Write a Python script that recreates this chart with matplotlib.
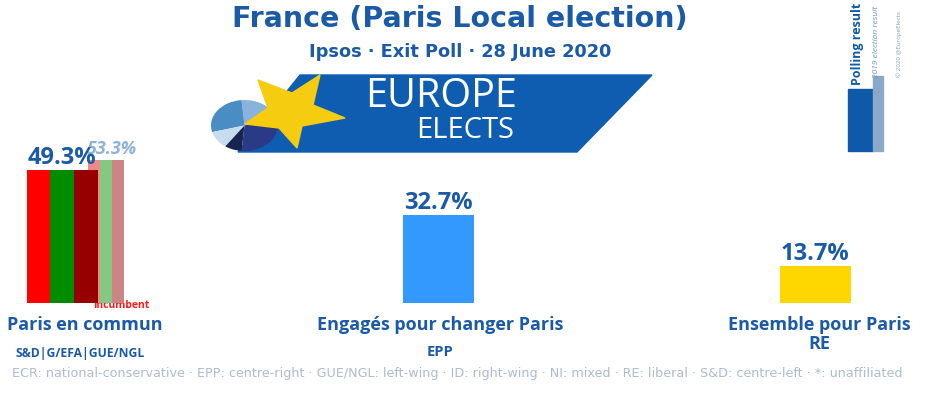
import matplotlib
matplotlib.use("Agg")
import matplotlib.pyplot as plt
from matplotlib.patches import Polygon, Rectangle
import numpy as np

plt.rcParams["font.family"] = ["DejaVu Sans"]

# --- data ---
parties = ["Paris en commun", "Engagés pour changer Paris", "Ensemble pour Paris"]
groups = ["S&D|G/EFA|GUE/NGL", "EPP", "RE"]
values = [49.3, 32.7, 13.7]
previous = [53.3, None, None]
# the first list is a joint list, shown as stripes
stripe_colors = [["#ff0000", "#008c00", "#960000"], ["#3399ff"], ["#ffd700"]]
prev_colors = ["#f08a8a", "#84c884", "#cc8484"]

TITLE = "France (Paris Local election)"
SUBTITLE = "Ipsos · Exit Poll · 28 June 2020"
FOOTNOTE = ("ECR: national-conservative · EPP: centre-right · GUE/NGL: left-wing · "
            "ID: right-wing · NI: mixed · RE: liberal · S&D: centre-left · *: unaffiliated")

NAVY = "#1a5aa6"
OPEN = ["Open Sans", "DejaVu Sans"]

W, H = 932, 396
fig = plt.figure(figsize=(W / 100, H / 100), dpi=100)

# overlay in pixel coordinates (y down) for texts and logo
ov = fig.add_axes([0, 0, 1, 1])
ov.set_xlim(0, W)
ov.set_ylim(H, 0)
ov.axis("off")

# bar axes: x in category units, y in percent
base_px = 303
px_per_pct = 2.69
spacing = 376.5
x0_px = 62
ax = fig.add_axes([0, (H - base_px) / H, 1, 100 * px_per_pct / H])
ax.set_xlim(-x0_px / spacing, (W - x0_px) / spacing)
ax.set_ylim(0, 100)
ax.axis("off")
ax.patch.set_alpha(0)

bw = 71 / spacing
x = np.arange(len(parties))

# previous result bars (behind)
for i, pv in enumerate(previous):
    if pv is None:
        continue
    pw = 12 / spacing
    start = x[i] + 26 / spacing
    for j, c in enumerate(prev_colors):
        ax.bar(start + (j + 0.5) * pw, pv, pw, color=c, zorder=1)
    ax.annotate(f"{pv}%", (start + 1.5 * pw, pv), xytext=(4, 1), textcoords="offset points",
                ha="center", va="bottom", fontsize=13, fontstyle="italic",
                fontweight="bold", color="#8fb2d8", zorder=3, family=OPEN)

for i, v in enumerate(values):
    cols = stripe_colors[i]
    sw = bw / len(cols)
    for j, c in enumerate(cols):
        ax.bar(x[i] - bw / 2 + (j + 0.5) * sw, v, sw, color=c, zorder=2)
    ax.annotate(f"{v}%", (x[i], v), xytext=(0, 0), textcoords="offset points",
                ha="center", va="bottom", fontsize=17, fontweight="bold",
                color=NAVY, zorder=4, family=OPEN)

# party and group labels
label_shift = [23, 1.5, 4]
for i, (p, g) in enumerate(zip(parties, groups)):
    cx = x0_px + spacing * i + label_shift[i]
    ov.text(cx, 325, p, ha="center", va="center", fontsize=13, fontweight="bold",
            color=NAVY, family=OPEN)
    if i == 2:
        ov.text(cx, 344, g, ha="center", va="center", fontsize=13, fontweight="bold",
                color=NAVY, family=OPEN)
    elif i == 0:
        ov.text(80, 354, g, ha="center", va="center", fontsize=8.7, fontweight="bold",
                color=NAVY, family=OPEN)
    else:
        ov.text(cx, 352, g, ha="center", va="center", fontsize=10.5, fontweight="bold",
                color=NAVY, family=OPEN)

ov.text(93, 306, "Incumbent", ha="left", va="center", fontsize=7.5,
        fontweight="bold", color="#ff1a1a", family=OPEN)

# titles
ov.text(460, 19, TITLE, ha="center", va="center", fontsize=20.5, fontweight="bold", color=NAVY)
ov.text(460, 52, SUBTITLE, ha="center", va="center", fontsize=12.8, fontweight="bold", color=NAVY)
ov.text(12, 374, FOOTNOTE, ha="left", va="center", fontsize=9.15, color="#aebbd0")

# Europe Elects logo
ov.add_patch(Polygon([(300, 75), (652, 75), (577, 152), (238, 152)],
                     closed=True, color="#0f5db0", zorder=1))
pie_ax = fig.add_axes([211 / W, (H - 151) / H, 67 / W, 51 / H])
pie_ax.pie([75, 100, 40, 30, 115], colors=["#8ab3dc", "#4a8cc4", "#c8dcf0", "#16254f", "#2b3a86"],
           startangle=20, wedgeprops=dict(linewidth=0))
pie_ax.set_aspect("auto")
pie_ax.set_xlim(-1, 1)
pie_ax.set_ylim(-1, 1)
pie_ax.set_zorder(2)

star_ax = fig.add_axes([0, 0, 1, 1])
star_ax.set_xlim(0, W)
star_ax.set_ylim(H, 0)
star_ax.axis("off")
star_ax.set_zorder(3)
star = [(258, 80), (292, 93), (320, 75), (313, 105), (345, 118), (302, 126),
        (297, 148), (279, 128), (245, 124), (268, 108)]
star_ax.add_patch(Polygon(star, closed=True, color="#f5cc10"))
star_ax.text(441, 97, "EUROPE", ha="center", va="center", fontsize=28.5, color="white", family=OPEN)
star_ax.text(465, 131, "ELECTS", ha="center", va="center", fontsize=21, color="white", family=OPEN)

# legend at top right
star_ax.add_patch(Rectangle((848, 89), 25, 62, color="#0f5aa8"))
star_ax.add_patch(Rectangle((873, 76), 10, 75, color="#8aa8c8"))
star_ax.text(857, 44, "Polling result", rotation=90, ha="center", va="center",
             fontsize=9, fontweight="bold", color="#0f5aa8", family=OPEN)
star_ax.text(877, 42, "2019 election result", rotation=90, ha="center", va="center",
             fontsize=6, fontstyle="italic", color="#6f93bd", family=OPEN)
star_ax.text(899, 44, "© 2020 @EuropeElects", rotation=90, ha="center", va="center",
             fontsize=4.5, color="#8a9bb0", family=OPEN)

fig.savefig("out.png", dpi=100, facecolor="white")
